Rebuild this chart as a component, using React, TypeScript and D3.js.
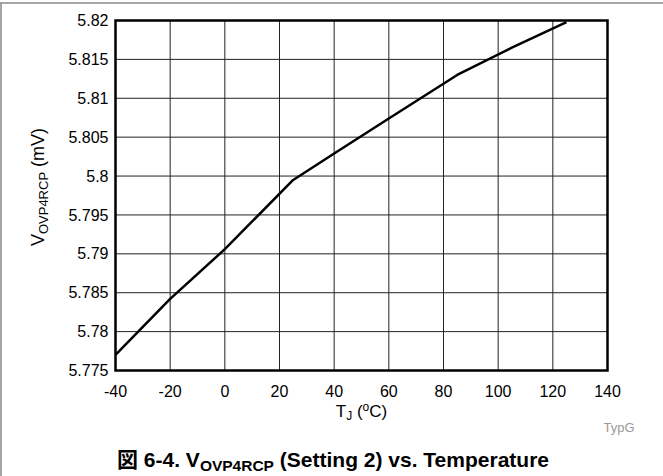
import React from "react";
import * as d3 from "d3";

const temps = [-40, -20, 0, 25, 40, 60, 85, 105, 125];
const voltages = [5.777, 5.7842, 5.7906, 5.7995, 5.8029, 5.8074, 5.813, 5.8165, 5.8198];
const xTicks = [-40, -20, 0, 20, 40, 60, 80, 100, 120, 140];
const yTicks = [5.775, 5.78, 5.785, 5.79, 5.795, 5.8, 5.805, 5.81, 5.815, 5.82];
const yTickLabels = ["5.775", "5.78", "5.785", "5.79", "5.795", "5.8", "5.805", "5.81", "5.815", "5.82"];

const W = 663;
const H = 476;
const left = 115.5;
const right = 607.5;
const top = 20.5;
const bottom = 370.5;
const font = "'Liberation Sans', Arial, 'Noto Sans CJK JP', sans-serif";

export default function App() {
  const x = d3.scaleLinear().domain([-40, 140]).range([left, right]);
  const y = d3.scaleLinear().domain([5.775, 5.82]).range([bottom, top]);
  const line = d3
    .line<number>()
    .x((_, i) => x(temps[i]))
    .y((d) => y(d));
  const pathD = line(voltages) || "";

  return (
    <div style={{ position: "fixed", left: 0, top: 0, width: W, height: H, background: "#fff" }}>
      <svg width={W} height={H} style={{ display: "block" }} fontFamily={font}>
        <rect x={0} y={0} width={W} height={H} fill="#fff" />
        {/* outer frame */}
        <line x1={0} x2={W} y1={3} y2={3} stroke="#888" strokeWidth={1.5} />
        <line x1={1} x2={1} y1={3} y2={H} stroke="#888" strokeWidth={1.5} />

        {/* grid */}
        {xTicks.map((t) => (
          <line key={"gx" + t} x1={x(t)} x2={x(t)} y1={top} y2={bottom} stroke="#222" strokeWidth={1} />
        ))}
        {yTicks.map((t) => (
          <line key={"gy" + t} x1={left} x2={right} y1={y(t)} y2={y(t)} stroke="#222" strokeWidth={1} />
        ))}
        <rect x={left} y={top} width={right - left} height={bottom - top} fill="none" stroke="#000" strokeWidth={2.5} />

        {/* data */}
        <path d={pathD} fill="none" stroke="#000" strokeWidth={2.5} strokeLinejoin="round" />

        {/* y tick labels */}
        {yTicks.map((t, i) => (
          <text key={"yl" + t} x={left - 7} y={y(t)} dy="0.35em" textAnchor="end" fontSize={16} fill="#000">
            {yTickLabels[i]}
          </text>
        ))}
        {/* x tick labels */}
        {xTicks.map((t) => (
          <text key={"xl" + t} x={x(t)} y={bottom + 26} textAnchor="middle" fontSize={16} fill="#000">
            {String(t)}
          </text>
        ))}

        {/* x axis title */}
        <text x={(left + right) / 2} y={417} textAnchor="middle" fontSize={17} fill="#000">
          T<tspan fontSize={12} dy={3}>J</tspan>
          <tspan dy={-3}> (</tspan>
          <tspan fontSize={12} dy={-6}>o</tspan>
          <tspan dy={6}>C)</tspan>
        </text>

        {/* y axis title */}
        <text transform={`translate(44, 187) rotate(-90)`} textAnchor="middle" fontSize={18} fill="#000">
          V<tspan fontSize={13} dy={4}>OVP4RCP</tspan>
          <tspan dy={-4}> (mV)</tspan>
        </text>

        {/* TypG */}
        <text x={619} y={432} textAnchor="middle" fontSize={13} fill="#999">
          TypG
        </text>

        {/* caption */}
        <text x={333} y={467} textAnchor="middle" fontSize={21} fontWeight="bold" fill="#000">
          図 6-4. V<tspan fontSize={15.5} dy={4}>OVP4RCP</tspan>
          <tspan dy={-4}> (Setting 2) vs. Temperature</tspan>
        </text>
      </svg>
    </div>
  );
}
